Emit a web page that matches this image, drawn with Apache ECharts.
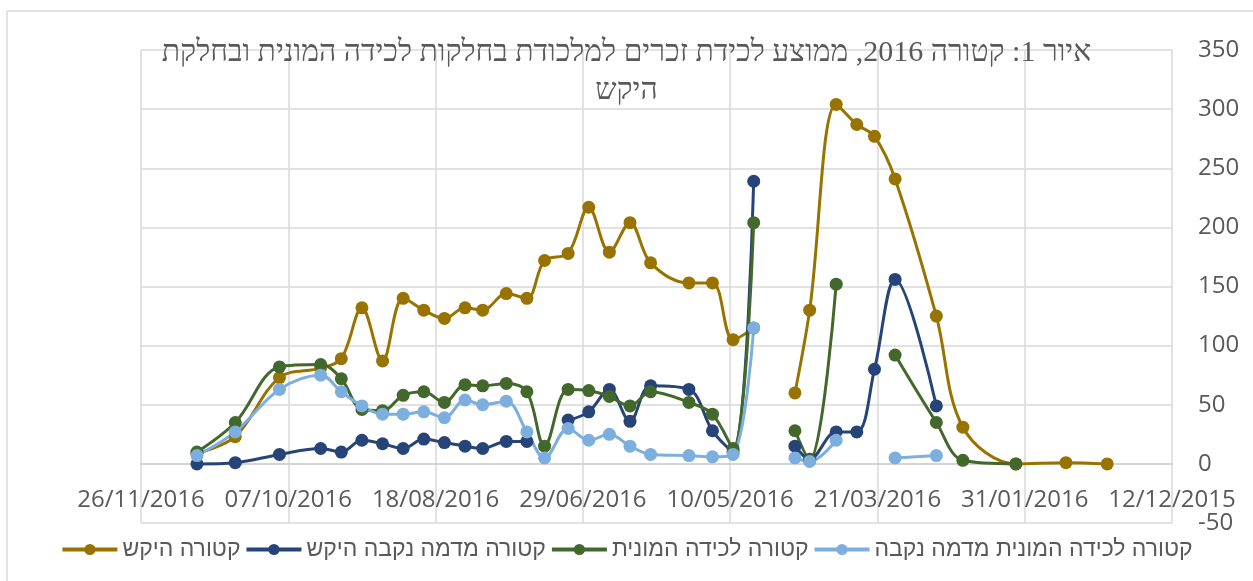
<!DOCTYPE html>
<html>
<head>
<meta charset="utf-8">
<script src="https://cdn.jsdelivr.net/npm/echarts@6/dist/echarts.min.js"></script>
<style>
  html, body { margin: 0; padding: 0; background: #ffffff; }
  #main { width: 1253px; height: 581px; }
</style>
</head>
<body>
<div id="main"></div>
<script>
// sampling dates (one entry of nulls breaks the lines in late April)
var dates = [
    '2016-11-07', '2016-10-25', '2016-10-10', '2016-09-26', '2016-09-19', '2016-09-12',
    '2016-09-05', '2016-08-29', '2016-08-22', '2016-08-15', '2016-08-08', '2016-08-02',
    '2016-07-25', '2016-07-18', '2016-07-12', '2016-07-04', '2016-06-27', '2016-06-20',
    '2016-06-13', '2016-06-06', '2016-05-24', '2016-05-16', '2016-05-09', '2016-05-02',
    '2016-04-25', '2016-04-18', '2016-04-13', '2016-04-04', '2016-03-28', '2016-03-22',
    '2016-03-15', '2016-03-01', '2016-02-21', '2016-02-03', '2016-01-17', '2016-01-03'
];

var seriesNames = [
    'קטורה היקש',
    'קטורה מדמה נקבה היקש',
    'קטורה לכידה המונית',
    'קטורה לכידה המונית מדמה נקבה'
];

var goldValues = [9, 23, 73, 81, 89, 132, 87, 140, 130, 123, 132, 130,
    144, 140, 172, 178, 217, 179, 204, 170, 153, 153, 105, 115,
    null, 60, 130, 304, 287, 277, 241, 125, 31, 0, 1, 0];
var navyValues = [0, 1, 8, 13, 10, 20, 17, 13, 21, 18, 15, 13,
    19, 19, null, 37, 44, 63, 36, 66, 63, 28, 10, 239,
    null, 15, 4, 27, 27, 80, 156, 49, null, null, null, null];
var greenValues = [10, 35, 82, 84, 72, 46, 45, 58, 61, 52, 67, 66,
    68, 61, 15, 63, 62, 57, 49, 61, 52, 42, 13, 204,
    null, 28, 3, 152, null, null, 92, 35, 3, 0, null, null];
var blueValues = [7, 27, 63, 75, 61, 49, 42, 42, 44, 39, 54, 50,
    53, 27, 5, 30, 20, 25, 15, 8, 7, 6, 8, 115,
    null, 5, 2, 20, null, null, 5, 7, null, null, null, null];

var colors = ['#997300', '#264478', '#43682B', '#7CAFDD'];

// x axis runs in days from 12/12/2015
var DAY = 86400000;
var base = Date.UTC(2015, 11, 12);
function dayOf(s) {
    var p = s.split('-');
    return (Date.UTC(+p[0], +p[1] - 1, +p[2]) - base) / DAY;
}
function pad(n) { return n < 10 ? '0' + n : '' + n; }
function fmt(v) {
    var d = new Date(base + v * DAY);
    return pad(d.getUTCDate()) + '/' + pad(d.getUTCMonth() + 1) + '/' + d.getUTCFullYear();
}
function pairs(vals) {
    return dates.map(function (s, i) { return [dayOf(s), vals[i]]; });
}

var myChart = echarts.init(document.getElementById('main'));

function makeSeries(idx, vals) {
    return {
        name: seriesNames[idx],
        type: 'line',
        data: pairs(vals),
        smooth: 0.35,
        connectNulls: false,
        symbol: 'circle',
        symbolSize: 13,
        showAllSymbol: true,
        lineStyle: { width: 3, color: colors[idx] },
        itemStyle: { color: colors[idx] }
    };
}

var option = {
    animation: false,
    color: colors,
    graphic: [{
        type: 'rect',
        shape: { x: 7, y: 11, width: 1260, height: 600 },
        style: { fill: 'none', stroke: '#D9D9D9', lineWidth: 1.5 },
        silent: true
    }],
    title: {
        text: 'איור 1: קטורה 2016, ממוצע לכידת זכרים למלכודת בחלקות לכידה המונית ובחלקת\nהיקש',
        left: 'center',
        top: 29,
        textStyle: {
            fontFamily: 'Liberation Serif',
            fontWeight: 'normal',
            fontSize: 30,
            lineHeight: 38,
            color: '#595959',
            align: 'center'
        }
    },
    legend: {
        bottom: 15,
        left: 'center',
        itemWidth: 55,
        itemHeight: 14,
        itemGap: 4,
        lineStyle: { width: 4 },
        textStyle: {
            fontFamily: 'Liberation Sans',
            fontSize: 23,
            color: '#595959'
        }
    },
    grid: {
        left: 141,
        right: 81,
        top: 50,
        bottom: 58
    },
    xAxis: {
        type: 'value',
        inverse: true,
        min: 0,
        max: 350,
        interval: 50,
        // axis sits on the zero line of the value axis
        offset: -59,
        axisLine: { onZero: false, lineStyle: { color: '#D0D0D0', width: 1.5 } },
        axisTick: { show: false },
        axisLabel: {
            margin: 24,
            fontFamily: 'Open Sans',
            fontSize: 24,
            color: '#595959',
            formatter: fmt
        },
        splitLine: { show: true, lineStyle: { color: '#D9D9D9', width: 1.5 } }
    },
    yAxis: {
        type: 'value',
        position: 'right',
        min: -50,
        max: 350,
        interval: 50,
        axisLine: { show: false },
        axisTick: { show: false },
        axisLabel: {
            margin: 26,
            fontFamily: 'Open Sans',
            fontSize: 24,
            color: '#595959'
        },
        splitLine: { lineStyle: { color: '#D9D9D9', width: 1.5 } }
    },
    series: [
        makeSeries(0, goldValues),
        makeSeries(1, navyValues),
        makeSeries(2, greenValues),
        makeSeries(3, blueValues)
    ]
};

myChart.setOption(option);
</script>
</body>
</html>
